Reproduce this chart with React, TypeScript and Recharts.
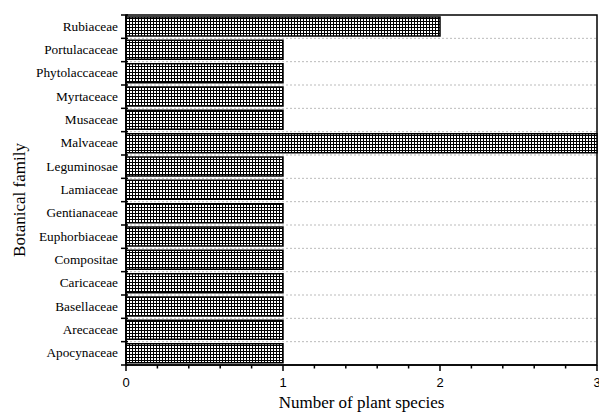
import React from "react";
import { BarChart, Bar, XAxis, YAxis, CartesianGrid, Label, ReferenceArea } from "recharts";

const families = [
  "Rubiaceae",
  "Portulacaceae",
  "Phytolaccaceae",
  "Myrtaceace",
  "Musaceae",
  "Malvaceae",
  "Leguminosae",
  "Lamiaceae",
  "Gentianaceae",
  "Euphorbiaceae",
  "Compositae",
  "Caricaceae",
  "Basellaceae",
  "Arecaceae",
  "Apocynaceae",
];
const speciesCounts = [2, 1, 1, 1, 1, 3, 1, 1, 1, 1, 1, 1, 1, 1, 1];
const xTicks = [0, 0.2, 0.4, 0.6, 0.8, 1, 1.2, 1.4, 1.6, 1.8, 2, 2.2, 2.4, 2.6, 2.8, 3];
const xDomain = [0, 3];

const data = families.map((name, i) => ({ name, count: speciesCounts[i] }));

const W = 599;
const H = 416;
const M = { top: 15, right: 2, left: 0, bottom: 0 };
const YW = 126;
const XH = 51;
const PLOT_H = H - M.top - M.bottom - XH;
const HALF_BAND = PLOT_H / families.length / 2;

const serif = "'Liberation Serif', 'Times New Roman', serif";
const sans = "'Liberation Sans', Arial, sans-serif";

const XTick = (props: any) => {
  const { x, y, payload } = props;
  const v = payload.value;
  const major = Math.abs(v - Math.round(v)) < 1e-6;
  return (
    <g>
      <line x1={x} x2={x} y1={y} y2={y + (major ? 6 : 3.5)} stroke="#000" strokeWidth={1.5} />
      {major && (
        <text x={x} y={y + 22} textAnchor="middle" fontFamily={sans} fontSize={13} fill="#000">
          {Math.round(v)}
        </text>
      )}
    </g>
  );
};

const YTick = (props: any) => {
  const { x, y, payload, index } = props;
  return (
    <g>
      <line x1={x - 5} x2={x + 2} y1={y + HALF_BAND} y2={y + HALF_BAND} stroke="#000" strokeWidth={1.5} />
      {index === 0 && (
        <line x1={x - 5} x2={x + 2} y1={y - HALF_BAND} y2={y - HALF_BAND} stroke="#000" strokeWidth={1.5} />
      )}
      <text x={x - 8} y={y + 4} textAnchor="end" fontFamily={serif} fontSize={13.3} fill="#000">
        {payload.value}
      </text>
    </g>
  );
};

export default function App() {
  return (
    <div style={{ position: "fixed", left: 0, top: 0, width: W, height: H, overflow: "hidden", background: "#fff" }}>
      <BarChart width={W} height={H} data={data} layout="vertical" margin={M} barSize={19}>
        <defs>
          <pattern id="hatch" width={3} height={3} patternUnits="userSpaceOnUse">
            <rect x={0} y={0} width={3} height={3} fill="#fff" />
            <rect x={0} y={0} width={3} height={1} fill="#000" />
            <rect x={0} y={0} width={1} height={3} fill="#000" />
          </pattern>
        </defs>
        <CartesianGrid
          vertical={false}
          stroke="#bbb"
          strokeDasharray="2 2"
          horizontalCoordinatesGenerator={({ offset }: any) =>
            families.slice(1).map((_, i) => offset.top + ((i + 1) * offset.height) / families.length)
          }
        />
        <XAxis
          type="number"
          dataKey="count"
          domain={xDomain}
          ticks={xTicks}
          interval={0}
          height={XH}
          tickSize={0}
          tickMargin={0}
          tickLine={false}
          tick={<XTick />}
          axisLine={{ stroke: "#000", strokeWidth: 1.5 }}
        >
          <Label
            content={() => (
              <text x={M.left + YW + (W - M.left - M.right - YW) / 2} y={408} textAnchor="middle" fontFamily={serif} fontSize={17} fill="#000">
                Number of plant species
              </text>
            )}
          />
        </XAxis>
        <YAxis
          type="category"
          dataKey="name"
          width={YW}
          interval={0}
          tickSize={0}
          tickMargin={0}
          tickLine={false}
          tick={<YTick />}
          axisLine={{ stroke: "#000", strokeWidth: 1.5 }}
        >
          <Label
            content={() => (
              <text
                x={25}
                y={200}
                transform="rotate(-90, 25, 200)"
                textAnchor="middle"
                fontFamily={serif}
                fontSize={17}
                fill="#000"
              >
                Botanical family
              </text>
            )}
          />
        </YAxis>
        <Bar dataKey="count" fill="url(#hatch)" stroke="#000" strokeWidth={1.5} isAnimationActive={false} />
        <ReferenceArea x1={xDomain[0]} x2={xDomain[1]} fill="none" fillOpacity={0} stroke="#000" strokeWidth={1.5} />
      </BarChart>
    </div>
  );
}
